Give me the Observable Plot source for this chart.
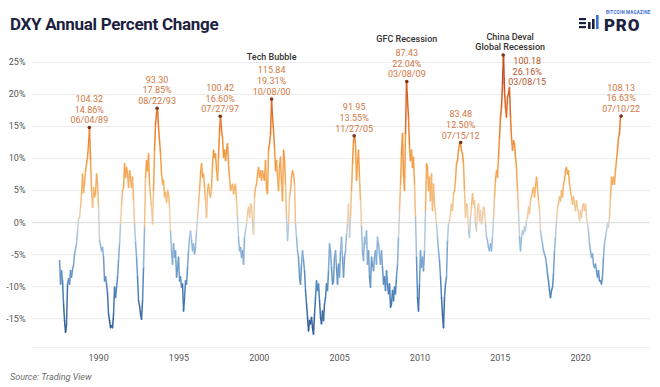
<!DOCTYPE html>
<html><head><meta charset="utf-8">
<script src="https://cdn.jsdelivr.net/npm/d3@7"></script>
<script src="https://cdn.jsdelivr.net/npm/@observablehq/plot@0.6"></script>
<style>
body{margin:0;background:#fff;}
#wrap{position:relative;width:660px;height:387px;overflow:hidden;font-family:Roboto,"Open Sans",sans-serif;background:#fff;}
#chart{position:absolute;left:0;top:0;}
#title{position:absolute;left:10px;top:16px;font-size:17px;line-height:1;font-weight:700;color:#1c2140;letter-spacing:-0.3px;white-space:nowrap;}
#source{position:absolute;left:10px;top:373px;font-size:9px;line-height:1;font-style:italic;color:#6b6b6b;}
#logo{position:absolute;left:579px;top:11px;width:75px;height:24px;}
#logo .bm{position:absolute;left:27px;top:-1px;font-size:4.5px;line-height:5px;font-weight:700;color:#3d6fd6;letter-spacing:0.2px;white-space:nowrap;}
#logo .pro{position:absolute;left:25px;top:7px;font-size:17px;line-height:14px;font-weight:900;color:#1c2140;letter-spacing:0.8px;}
#logo svg{position:absolute;left:0;top:3px;}
</style></head>
<body>
<div id="wrap">
  <div id="chart"></div>
  <div id="title">DXY Annual Percent Change</div>
  <div id="logo">
    <svg width="22" height="17" viewBox="0 0 22 17">
      <g fill="#1c2140">
        <rect x="0" y="4" width="7" height="2.2"/>
        <rect x="0" y="8" width="7" height="2.2"/>
        <rect x="0" y="12" width="7" height="2.2"/>
        <rect x="9" y="8" width="2.6" height="7"/>
        <rect x="13" y="5" width="2.6" height="10"/>
      </g>
      <rect x="17" y="1" width="2.6" height="14" fill="#3d6fd6"/>
    </svg>
    <div class="bm">BITCOIN MAGAZINE</div>
    <div class="pro">PRO</div>
  </div>
  <div id="source">Source: Trading View</div>
</div>
<script>
// Sampling of the weekly series, read roughly every ~3 weeks from the picture
const sampleStart = new Date(1987, 6, 28);
const sampleDays = 22.73;
const dxyPct = [
  // 1987-1994
  -5.9,-9.6,-7.5,-9.1,-12.7,-15.3,-17.1,-15.8,-9.6,-8.8,
  -9.6,-7.5,-8.5,-7.2,-6.7,-4.9,-4.1,-3.3,-1.3,0.6,
  0.8,2.4,4.5,7.6,4.7,6.0,8.1,9.2,10.2,12.3,
  14.86,9.7,5.0,2.4,5.5,4.0,4.5,7.6,6.0,2.4,
  -2.8,-3.6,-4.4,-3.9,-5.4,-9.1,-8.5,-9.6,-11.1,-14.3,
  -15.3,-16.4,-16.1,-16.4,-14.3,-10.1,-11.7,-10.1,-8.5,-5.9,
  -3.3,-0.2,2.9,5.0,5.5,9.2,7.1,8.6,7.6,5.5,
  8.1,7.1,5.5,7.1,3.4,-0.2,-3.1,-5.4,-8.5,-12.2,
  -13.0,-14.3,-15.1,-12.2,-7.0,-0.7,7.1,9.7,8.1,10.7,
  6.0,4.0,2.4,-0.2,5.0,11.3,15.4,17.0,17.85,14.9,
  12.8,10.7,7.6,6.0,6.6,4.0,4.7,3.2,5.0,4.5,
  2.4,-1.3,-4.4,-6.5,-3.3,-5.4,-4.4,-8.5,-7.0,-5.4,
  -9.1,-8.5,-10.1,-9.6,-13.8,-11.7,-9.1,-9.6,-7.0,-4.4,
  -2.3,-1.3,-2.8,-4.4,-3.3,-4.9,
  // 1996-2004
  -3.9,-1.3,0.8,2.9,5.0,7.6,9.2,7.1,7.6,5.5,
  3.4,0.8,5.0,6.0,4.5,4.0,5.5,9.2,11.3,10.2,
  10.7,8.1,6.6,10.2,14.4,16.60,14.4,13.3,10.2,11.3,
  9.7,11.3,12.3,9.2,7.1,5.0,5.5,6.0,4.5,5.5,
  6.0,3.4,0.8,-2.3,-4.4,-3.9,-5.4,-4.4,-6.5,-2.3,
  -1.3,-0.2,1.4,2.4,0.8,2.9,2.4,0.3,-1.8,4.0,
  5.5,6.0,7.6,8.6,7.1,8.1,6.6,8.1,7.1,6.6,
  9.7,5.0,4.5,11.3,12.3,13.9,19.31,16.5,14.4,11.8,
  8.1,9.7,7.1,5.0,8.6,10.2,6.0,3.4,11.3,9.7,
  6.0,0.8,-2.8,-0.2,4.0,5.0,7.1,8.1,7.6,6.0,
  -0.2,-2.3,-4.4,-5.4,-8.5,-9.6,-6.5,-4.4,-5.9,-7.5,
  -10.6,-12.7,-14.8,-16.9,-15.3,-15.8,-14.8,-16.4,-17.4,-14.3,
  -11.7,-9.1,-10.6,-9.6,-12.2,-14.8,-15.8,-13.8,-15.3,-12.7,
  -11.7,-9.6,-10.6,-7.5,-3.3,-4.4,-7.0,-9.6,-9.1,-5.4,
  // 2004-2013
  -4.4,-7.0,-9.6,-6.5,-8.5,-4.4,-2.3,-5.4,-8.5,-5.4,
  -4.4,-1.8,-0.2,2.9,-2.3,0.8,5.0,9.2,12.8,13.55,
  12.3,6.6,9.2,11.3,7.1,3.4,-0.7,-4.4,-5.9,-2.3,
  -3.3,-1.3,-6.5,-4.4,-8.5,-10.1,-5.4,-6.5,-7.5,-5.4,
  -4.4,-6.5,-2.3,-3.3,-4.9,-6.5,-4.4,-7.0,-9.6,-8.5,
  -10.6,-7.5,-9.6,-11.1,-9.6,-13.2,-12.7,-10.6,-12.2,-10.1,
  -11.1,-8.5,-6.5,-2.3,1.9,6.0,10.7,13.9,7.1,5.0,
  13.9,22.04,19.1,16.5,11.8,9.7,11.3,8.6,10.2,6.0,
  0.8,-5.4,-11.7,-13.8,-9.6,-4.4,-7.0,-5.4,-7.5,-4.4,
  1.9,9.2,8.6,5.0,7.1,3.4,7.6,1.9,6.0,2.9,
  1.4,-0.2,-2.3,-4.4,-5.9,-8.5,-11.7,-14.3,-16.4,-11.7,
  -9.6,-8.5,-2.8,-0.2,0.3,1.4,2.9,1.9,4.5,5.0,
  6.6,9.2,9.7,11.3,12.3,12.50,11.3,10.7,9.2,5.0,
  0.8,2.9,2.4,-1.3,-2.3,0.8,2.4,4.5,2.9,3.4,
  // 2013-2022
  -0.2,-1.3,1.9,2.9,0.3,1.9,-0.2,0.8,2.4,1.9,
  -0.2,-2.3,-2.8,-3.9,-4.4,-3.3,-4.4,-2.3,0.8,4.0,
  6.6,8.1,7.1,10.2,13.3,16.5,18.0,21.7,26.16,20.6,
  18.0,16.5,19.6,20.1,21.1,16.5,13.3,11.3,12.8,12.3,
  10.2,8.6,5.0,1.9,-2.3,-4.4,-2.3,-1.3,-1.8,-0.7,
  -1.3,0.3,0.8,2.4,1.4,3.4,4.0,5.0,5.5,4.0,
  5.5,7.1,5.5,3.4,1.9,-1.3,-2.3,-3.3,-4.4,-4.9,
  -5.4,-6.5,-8.0,-9.1,-10.6,-11.7,-10.6,-10.1,-8.0,-4.4,
  -2.3,0.3,2.4,2.9,4.0,3.4,5.0,4.0,6.0,6.6,
  8.1,8.6,7.6,8.1,6.0,5.0,4.0,2.9,4.0,2.9,
  1.9,3.4,2.4,1.4,0.3,1.9,0.8,2.4,2.9,1.9,
  2.9,0.8,-0.2,-1.3,-3.3,-4.4,-5.4,-4.9,-6.5,-7.0,
  -6.5,-7.5,-8.5,-7.5,-9.1,-9.1,-9.6,-8.5,-5.4,-3.3,
  -2.3,-1.3,-0.2,-0.7,0.8,4.0,7.1,6.0,7.1,6.0,
  8.1,9.7,11.3,13.3,13.9,16.63
];

const peakDates  = ["1989-06-04","1993-08-22","1997-07-27","2000-10-08","2005-11-27","2009-03-08","2012-07-15","2015-03-08","2022-07-10"];
const peakPrices = [104.32, 93.30, 100.42, 115.84, 91.95, 87.43, 83.48, 100.18, 108.13];
const peakPcts   = [14.86, 17.85, 16.60, 19.31, 13.55, 22.04, 12.50, 26.16, 16.63];
const peakLabels = ["06/04/89","08/22/93","07/27/97","10/08/00","11/27/05","03/08/09","07/15/12","03/08/15","07/10/22"];

const eventDates = ["2000-10-08","2009-03-08","2015-03-08"];
const eventNames = ["Tech Bubble","GFC Recession","China Deval\nGlobal Recession"];

const yTicks = [-15,-10,-5,0,5,10,15,20,25];
const xTickYears = [1990,1995,2000,2005,2010,2015,2020];

const parse = s => new Date(s + "T00:00:00");
const series = dxyPct.map((v, i) => ({date: new Date(+sampleStart + i * sampleDays * 864e5), v}));
const segs = d3.pairs(series).map(([a, b]) => ({x1: a.date, y1: a.v, x2: b.date, y2: b.v, c: (a.v + b.v) / 2}));
const peaks = peakDates.map((d, i) => ({
  date: parse(d), pct: peakPcts[i],
  text: `${peakPrices[i].toFixed(2)}\n${peakPcts[i].toFixed(2)}%\n${peakLabels[i]}`
}));
const events = eventDates.map((d, i) => ({date: parse(d), name: eventNames[i], pct: peakPcts[peakDates.indexOf(d)]}));
const isChina = d => d.date.getFullYear() === 2015;

const chart = Plot.plot({
  width: 660, height: 370,
  marginLeft: 32, marginRight: 10, marginTop: 62, marginBottom: 23,
  style: {fontFamily: "Roboto, sans-serif", fontSize: "9px", color: "#555", background: "transparent"},
  x: {type: "time", domain: [new Date(1985, 10, 20), new Date(2024, 4, 8)],
      ticks: xTickYears.map(y => new Date(y, 0, 1)), tickFormat: d => String(d.getFullYear()),
      tickSize: 0, tickPadding: 7, label: null},
  y: {domain: [-19.5, 25], ticks: yTicks, tickFormat: d => `${d}%`, tickSize: 0, tickPadding: 7, label: null},
  color: {type: "linear",
    domain: [-17.5, -10, -4, -0.5, 0.5, 5, 10, 16, 26],
    range: ["#2a5590","#4f86bd","#8bb3d8","#bcd0e2","#efd2b0","#f4b369","#f29a3e","#e8762b","#b83d1a"]},
  marks: [
    Plot.ruleY(yTicks, {stroke: "#ececec"}),
    Plot.ruleY([0], {stroke: "#dedede"}),
    Plot.ruleY([-19.5], {stroke: "#f0f0f0"}),
    Plot.link(segs, {x1: "x1", y1: "y1", x2: "x2", y2: "y2", stroke: "c", strokeWidth: 1.5, strokeLinecap: "round"}),
    Plot.dot(peaks, {x: "date", y: "pct", r: 1.8, fill: "#7a3418"}),
    Plot.text(peaks.filter(d => !isChina(d)), {x: "date", y: "pct", text: "text", lineAnchor: "bottom", dy: -4,
      fill: "#d2773f", fontSize: 9, lineHeight: 1.2}),
    Plot.text(peaks.filter(isChina), {x: "date", y: "pct", text: "text", lineAnchor: "top", dy: 1, dx: 24,
      fill: "#b8552c", fontSize: 9, lineHeight: 1.2}),
    Plot.text(events.filter(d => !isChina(d)), {x: "date", y: "pct", text: "name", lineAnchor: "bottom", dy: -39,
      fill: "#333", fontSize: 9, fontWeight: 500}),
    Plot.text(events.filter(isChina), {x: "date", y: "pct", text: "name", lineAnchor: "bottom", dy: -5, dx: 7,
      fill: "#333", fontSize: 9, fontWeight: 500, lineHeight: 1.15})
  ]
});
document.getElementById("chart").appendChild(chart);
</script>
</body></html>
